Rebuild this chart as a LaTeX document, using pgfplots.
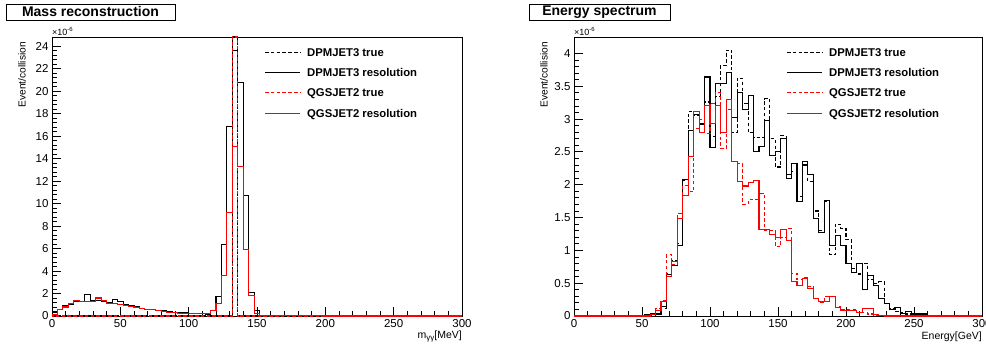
\documentclass[border=0pt]{standalone}
\usepackage{fontspec}
\setmainfont{Liberation Sans}
\usepackage{pgfplots}
\pgfplotsset{compat=1.18}
\usepackage{pgfplotstable}

\pgfplotstableread{
x dt dr qt qr
0 0 0.3 0 0.1
4 0 0.6 0 0.55
8 0 0.9 0 0.8
12 0 1.0 0 1.1
16 0 1.3 0 1.35
20 0 1.3 0 1.25
24 0 1.9 0 1.3
28 0 1.4 0 1.25
32 0 1.4 0 1.6
36 0 1.3 0 1.35
40 0 1.2 0 1.15
44 0 1.5 0 1.1
48 0 1.3 0 1.05
52 0 1.0 0 0.95
56 0 0.9 0 0.85
60 0 0.8 0 0.75
64 0 0.7 0 0.7
68 0 0.6 0 0.55
72 0 0.6 0 0.55
76 0 0.5 0 0.45
80 0 0.5 0 0.4
84 0 0.4 0 0.35
88 0 0.35 0 0.3
92 0 0.3 0 0.25
96 0 0.3 0 0.25
100 0 0.2 0 0.2
104 0 0.2 0 0.2
108 0 0.25 0 0.2
112 0 0.15 0 0.2
116 0 0.45 0 0.5
120 0 1.7 0 1.1
124 0 6.4 0 3.6
128 0 16.9 0 9.2
132 24.83 23.6 24.83 15.05
136 0 20.8 0 13.3
140 0 10.75 0 5.9
144 0 2.1 0 1.8
148 0 0.5 0 0.25
152 0 0.08 0 0.05
156 0 0.03 0 0.02
200 0 0 0 0
300 0 0 0 0
}\massdata

\pgfplotstableread{
x bt br rt rr
0 0 0 0 0
48 0 0 0 0
52 0 0.02 0 0
56 0.01 0.03 0.02 0.02
60 0.03 0.03 0.12 0.09
64 0.12 0.14 0.24 0.22
68 0.65 0.63 0.93 0.6
72 0.85 0.77 0.78 0.83
76 1.1 1.08 1.56 1.49
80 2.07 2.08 1.99 1.84
84 3.11 2.82 1.89 2.43
88 3.06 3.07 2.86 3.11
92 2.93 2.92 3.0 2.8
96 3.26 3.64 2.78 3.21
100 2.73 2.57 3.24 2.93
104 3.35 3.54 3.4 3.21
108 3.82 3.54 2.55 2.8
112 4.05 3.71 3.15 3.3
116 2.8 3.03 2.35 2.35
120 3.62 3.41 2.32 2.05
124 3.24 3.14 1.7 1.98
128 2.8 3.36 1.77 2.03
132 2.72 2.5 1.78 2.06
136 2.72 2.58 1.87 1.32
140 3.31 2.98 1.3 1.32
144 2.7 2.45 1.3 1.24
148 2.27 2.5 1.06 1.2
152 2.75 2.7 1.2 1.32
156 2.15 2.1 1.33 1.15
160 2.2 2.32 0.65 0.53
164 1.82 1.75 0.55 0.47
168 2.3 2.35 0.58 0.57
172 2.05 2.15 0.45 0.42
176 1.6 1.49 0.27 0.27
180 1.3 1.27 0.2 0.22
184 1.75 1.76 0.3 0.22
188 0.93 1.08 0.3 0.3
192 1.4 1.23 0.15 0.13
196 1.33 1.08 0.1 0.09
200 1.16 0.8 0.1 0.09
204 0.73 0.66 0.1 0.08
208 0.64 0.8 0.06 0.05
212 0.8 0.41 0.05 0.12
216 0.55 0.62 0.03 0.12
220 0.5 0.46 0.01 0.02
224 0.52 0.27 0.01 0.01
228 0.19 0.19 0 0
232 0.12 0.1 0 0
236 0.07 0.13 0 0
240 0.05 0.04 0 0
244 0.03 0.07 0 0
248 0.02 0.03 0 0
252 0.02 0.03 0 0
256 0 0.03 0 0
260 0 0 0 0
300 0 0 0 0
}\energydata

\definecolor{rootred}{RGB}{255,0,0}

\pgfplotsset{
  rootaxis/.style={
    scale only axis, height=279pt,
    xmin=0, xmax=300, ymin=0,
    clip=false,
    axis line style={line width=0.8pt},
    tick align=inside,
    xtick pos=bottom, ytick pos=left,
    major tick length=8.5pt, minor tick length=4.5pt,
    every tick/.style={black, line width=0.8pt},
    minor x tick num=4, minor y tick num=4,
    xtick={0,50,...,300},
    ticklabel style={font=\fontsize{11.5}{12}\selectfont},
    /pgf/number format/assume math mode=true,
    scaled y ticks=false,
  },
  hist/.style={const plot mark left, no markers, line width=1.1pt},
}
\tikzset{
  dashpat/.style={dash pattern=on 3.5pt off 2.3pt},
  legtext/.style={anchor=base west, inner sep=0pt, font=\bfseries\fontsize{11.3}{12}\selectfont},
  legline/.style={line width=1.1pt},
}

\begin{document}
\begin{tikzpicture}[x=1pt,y=1pt]
\useasboundingbox (0,0) rectangle (986,347);

% ---------------- left panel ----------------
\begin{axis}[rootaxis, at={(52pt,31pt)}, anchor=south west, width=410pt,
  ymax=24.83, ytick={0,2,...,24}]
\addplot[hist, black, dashpat] table[x=x,y=dt]{\massdata};
\addplot[hist, black] table[x=x,y=dr]{\massdata};
\addplot[hist, rootred, dashpat, dash phase=2pt] table[x=x,y=qt]{\massdata};
\addplot[hist, rootred] table[x=x,y=qr]{\massdata};
\end{axis}

% ---------------- right panel ----------------
\begin{axis}[rootaxis, at={(574pt,31pt)}, anchor=south west, width=408pt,
  ymax=4.25, ytick={0,0.5,...,4}]
\addplot[hist, black, dashpat] table[x=x,y=bt]{\energydata};
\addplot[hist, black] table[x=x,y=br]{\energydata};
\addplot[hist, rootred, dashpat] table[x=x,y=rt]{\energydata};
\addplot[hist, rootred] table[x=x,y=rr]{\energydata};
\end{axis}

% legends
\foreach \lx in {265,787} {
  \draw[legline, black, dashpat] (\lx,294.3) -- ++(35,0);
  \node[legtext] at (\lx+42,290.3) {DPMJET3 true};
  \draw[legline, black] (\lx,274.3) -- ++(35,0);
  \node[legtext] at (\lx+42,270.3) {DPMJET3 resolution};
  \draw[legline, rootred, dashpat] (\lx,254.3) -- ++(35,0);
  \node[legtext] at (\lx+42,250.3) {QGSJET2 true};
  \draw[legline, rootred] (\lx,233.5) -- ++(35,0);
  \node[legtext] at (\lx+42,229.5) {QGSJET2 resolution};
}

% titles
\draw[line width=0.8pt] (6,327) rectangle (175,343);
\node[font=\bfseries\fontsize{14}{14}\selectfont, inner sep=0pt] at (90.5,335) {Mass reconstruction};
\draw[line width=0.8pt] (529,327) rectangle (670,343);
\node[font=\bfseries\fontsize{14}{14}\selectfont, inner sep=0pt] at (599.5,335) {Energy spectrum};

% scale factors
\node[anchor=base west, inner sep=0pt, font=\fontsize{9}{9}\selectfont] at (52,311.5) {×10\textsuperscript{-6}};
\node[anchor=base west, inner sep=0pt, font=\fontsize{9}{9}\selectfont] at (574,311.5) {×10\textsuperscript{-6}};

% axis titles
\node[rotate=90, anchor=east, inner sep=0pt, font=\fontsize{10.2}{11}\selectfont] at (22,305) {Event/collision};
\node[rotate=90, anchor=east, inner sep=0pt, font=\fontsize{10.2}{11}\selectfont] at (544,305) {Event/collision};
\node[anchor=base east, inner sep=0pt, font=\fontsize{10.5}{11}\selectfont] at (462,8) {m\raisebox{-0.35ex}{\fontsize{8}{8}\selectfont γγ}[MeV]};
\node[anchor=base east, inner sep=0pt, font=\fontsize{10.5}{11}\selectfont] at (982,7.5) {Energy[GeV]};
\end{tikzpicture}
\end{document}
